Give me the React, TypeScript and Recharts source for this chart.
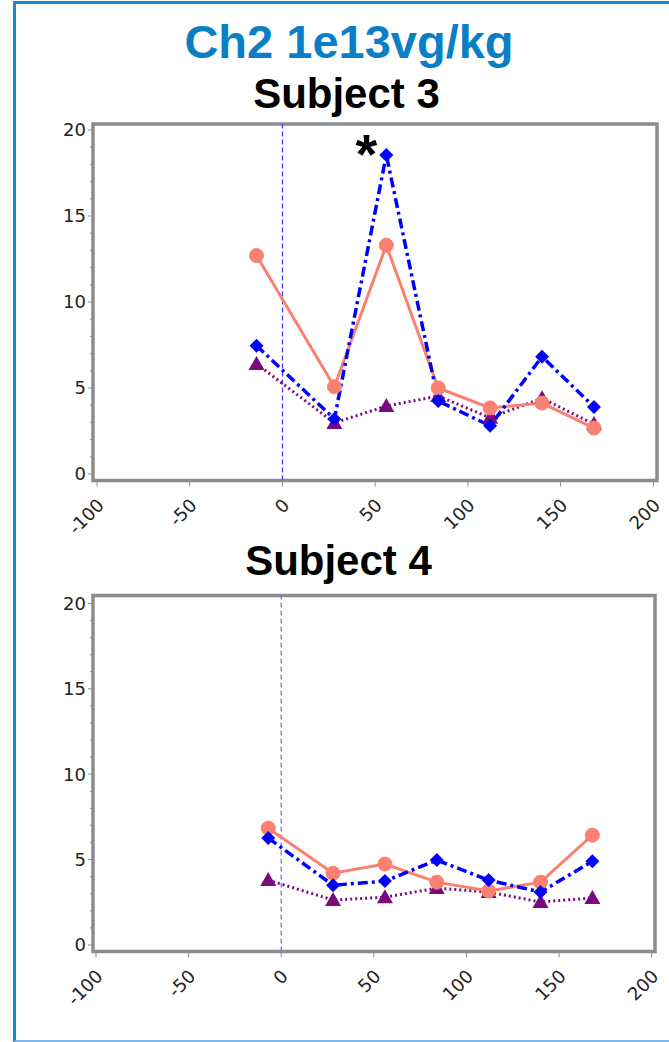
import React from 'react';
import { LineChart, Line, XAxis, YAxis, ReferenceLine, ReferenceArea, ReferenceDot } from 'recharts';

// study day of each visit
const s3Days = [-14, 28, 56, 84, 112, 140, 168];
const s4Days = [-7, 28, 56, 84, 112, 140, 168];

// subject 3
const s3Salmon = [12.7, 5.07, 13.3, 5.0, 3.84, 4.12, 2.67];
const s3Blue = [7.46, 3.2, 18.55, 4.24, 2.8, 6.82, 3.9];
const s3Purple = [6.4, 2.97, 3.95, 4.53, 3.27, 4.4, 2.9];

// subject 4
const s4Salmon = [6.84, 4.2, 4.74, 3.68, 3.16, 3.68, 6.43];
const s4Blue = [6.26, 3.5, 3.74, 4.97, 3.8, 3.1, 4.9];
const s4Purple = [3.8, 2.63, 2.8, 3.33, 3.1, 2.52, 2.75];

const xTicks = [-100, -50, 0, 50, 100, 150, 200];
const yTicks = [0, 1, 2, 3, 4, 5, 6, 7, 8, 9, 10, 11, 12, 13, 14, 15, 16, 17, 18, 19, 20];

const SALMON = '#FA8072';
const BLUE = '#0000FF';
const PURPLE = '#7B0A7E';
const FRAME = '#8A8C8E';
const TICK_FONT = '"DejaVu Sans", Verdana, sans-serif';
const TITLE_FONT = '"Liberation Sans", Arial, Helvetica, sans-serif';

const rows = (days: number[], a: number[], b: number[], c: number[]) =>
  days.map((d, i) => ({ day: d, salmon: a[i], blue: b[i], purple: c[i] }));

const YTick = (props: any) => {
  const { x, y, payload } = props;
  const major = payload.value % 5 === 0;
  return (
    <g>
      <line x1={x - (major ? 5 : 3)} x2={x} y1={y} y2={y} stroke={FRAME} strokeWidth={1} />
      {major && (
        <text x={x - 7} y={y} dy="0.36em" textAnchor="end" fontSize={18} fontFamily={TICK_FONT} fill="#222">
          {payload.value}
        </text>
      )}
    </g>
  );
};

const XTick = (props: any) => {
  const { x, y, payload } = props;
  return (
    <g transform={`translate(${x + 8},${y + 20})`}>
      <text transform="rotate(-45)" textAnchor="end" fontSize={18} fontFamily={TICK_FONT} fill="#222">
        {payload.value}
      </text>
    </g>
  );
};

const Diamond = (props: any) => {
  const { cx, cy, index } = props;
  if (cx == null || cy == null) return <g key={index} />;
  return <path key={index} d={`M${cx},${cy - 7} L${cx + 7},${cy} L${cx},${cy + 7} L${cx - 7},${cy} Z`} fill={BLUE} />;
};

const Triangle = (props: any) => {
  const { cx, cy, index } = props;
  if (cx == null || cy == null) return <g key={index} />;
  return <path key={index} d={`M${cx},${cy - 8} L${cx + 8},${cy + 6} L${cx - 8},${cy + 6} Z`} fill={PURPLE} />;
};

function Panel(props: {
  data: any[];
  xDomain: [number, number];
  yDomain: [number, number];
  margin: any;
  refColor: string;
  children?: React.ReactNode;
}) {
  const { data, xDomain, yDomain, margin, refColor } = props;
  return (
    <LineChart width={669} height={440} data={data} margin={margin}>
      <XAxis
        dataKey="day"
        type="number"
        domain={xDomain}
        allowDataOverflow
        ticks={xTicks}
        interval={0}
        axisLine={false}
        tickLine={{ stroke: FRAME }}
        tickSize={6}
        tickMargin={0}
        height={50}
        tick={<XTick />}
      />
      <YAxis
        type="number"
        domain={yDomain}
        allowDataOverflow
        ticks={yTicks}
        interval={0}
        axisLine={false}
        tickLine={false}
        tickSize={0}
        tickMargin={0}
        width={93}
        tick={<YTick />}
      />
      <ReferenceArea
        x1={xDomain[0]}
        x2={xDomain[1]}
        y1={yDomain[0]}
        y2={yDomain[1]}
        fill="none"
        fillOpacity={0}
        stroke={FRAME}
        strokeWidth={3.5}
      />
      <ReferenceLine x={0} stroke={refColor} strokeWidth={1.2} strokeDasharray="5 3" />
      <Line
        dataKey="purple"
        stroke={PURPLE}
        strokeWidth={3}
        strokeDasharray="2 3"
        dot={<Triangle />}
        activeDot={false}
        isAnimationActive={false}
      />
      <Line
        dataKey="salmon"
        stroke={SALMON}
        strokeWidth={3}
        dot={{ r: 7, fill: SALMON, stroke: SALMON, strokeWidth: 1 }}
        activeDot={false}
        isAnimationActive={false}
      />
      <Line
        dataKey="blue"
        stroke={BLUE}
        strokeWidth={3.5}
        strokeDasharray="10 4 3 4"
        dot={<Diamond />}
        activeDot={false}
        isAnimationActive={false}
      />
      {props.children}
    </LineChart>
  );
}

export default function App() {
  const d3 = rows(s3Days, s3Salmon, s3Blue, s3Purple);
  const d4 = rows(s4Days, s4Salmon, s4Blue, s4Purple);
  return (
    <div style={{ position: 'absolute', left: 0, top: 0, width: 669, height: 1042, background: '#fff', overflow: 'hidden' }}>
      <div
        style={{
          position: 'absolute',
          left: 13,
          top: 1,
          width: 700,
          height: 1041,
          boxSizing: 'border-box',
          borderLeft: '3px solid #1E86CF',
          borderTop: '3px solid #1E86CF',
          borderBottom: '2px solid #7DBBE6',
        }}
      />
      <svg width={669} height={1042} style={{ position: 'absolute', left: 0, top: 0 }}>
        <text x={349} y={58} textAnchor="middle" fontFamily={TITLE_FONT} fontWeight="bold" fontSize={47} fill="#0A7FC6">
          Ch2 1e13vg/kg
        </text>
        <text x={346.5} y={108} textAnchor="middle" fontFamily={TITLE_FONT} fontWeight="bold" fontSize={42} fill="#000">
          Subject 3
        </text>
        <text x={338.5} y={575} textAnchor="middle" fontFamily={TITLE_FONT} fontWeight="bold" fontSize={42} fill="#000">
          Subject 4
        </text>
      </svg>
      <div style={{ position: 'absolute', left: 0, top: 100 }}>
        <Panel
          data={d3}
          xDomain={[-102.2, 202]}
          yDomain={[-0.38, 20.35]}
          margin={{ top: 24, right: 12, left: 0, bottom: 9.5 }}
          refColor="#3838FF"
        >
          <ReferenceDot
            x={s3Days[2]}
            y={s3Blue[2]}
            r={0}
            fill="none"
            stroke="none"
            ifOverflow="visible"
            label={(p: any) => (
              <text
                x={p.viewBox.x - 20}
                y={p.viewBox.y + 18.5}
                textAnchor="middle"
                fontFamily={TITLE_FONT}
                fontWeight="bold"
                fontSize={56}
                fill="#000"
              >
                *
              </text>
            )}
          />
        </Panel>
      </div>
      <div style={{ position: 'absolute', left: 0, top: 570 }}>
        <Panel
          data={d4}
          xDomain={[-101.6, 201.8]}
          yDomain={[-0.38, 20.46]}
          margin={{ top: 25.5, right: 14, left: 0, bottom: 8.5 }}
          refColor="#6A6AFF"
        />
      </div>
    </div>
  );
}
